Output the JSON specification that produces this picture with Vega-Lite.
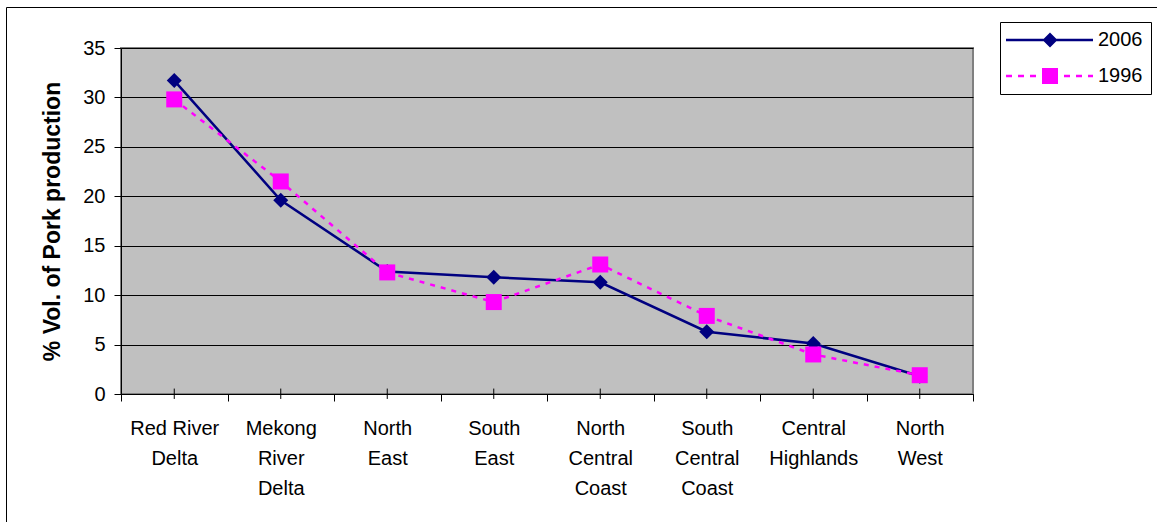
{
  "$schema": "https://vega.github.io/schema/vega-lite/v6.json",
  "width": 852,
  "height": 346,
  "autosize": {"type": "none"},
  "padding": {"left": 121, "top": 48, "right": 184, "bottom": 128},
  "background": "white",
  "config": {
    "font": "Liberation Sans",
    "view": {"fill": "#C0C0C0", "stroke": "#808080", "strokeWidth": 2},
    "axis": {
      "labelFont": "Liberation Sans",
      "labelFontSize": 20,
      "labelColor": "black",
      "tickColor": "black",
      "domainColor": "black",
      "titleFont": "Liberation Sans",
      "titleColor": "black"
    }
  },
  "data": {
    "values": [
      {"region": "Red River Delta", "year": "2006", "value": 31.7},
      {"region": "Mekong River Delta", "year": "2006", "value": 19.6},
      {"region": "North East", "year": "2006", "value": 12.4},
      {"region": "South East", "year": "2006", "value": 11.8},
      {"region": "North Central Coast", "year": "2006", "value": 11.3},
      {"region": "South Central Coast", "year": "2006", "value": 6.3},
      {"region": "Central Highlands", "year": "2006", "value": 5.1},
      {"region": "North West", "year": "2006", "value": 1.8},
      {"region": "Red River Delta", "year": "1996", "value": 29.8},
      {"region": "Mekong River Delta", "year": "1996", "value": 21.5},
      {"region": "North East", "year": "1996", "value": 12.3},
      {"region": "South East", "year": "1996", "value": 9.3},
      {"region": "North Central Coast", "year": "1996", "value": 13.1},
      {"region": "South Central Coast", "year": "1996", "value": 7.9},
      {"region": "Central Highlands", "year": "1996", "value": 4.0},
      {"region": "North West", "year": "1996", "value": 1.9}
    ]
  },
  "layer": [
    {
      "mark": {"type": "point", "opacity": 0},
      "encoding": {
        "x": {
          "datum": 0, "type": "quantitative",
          "scale": {"domain": [0, 1], "range": [-115, 1036], "nice": false, "zero": false},
          "axis": {"orient": "top", "offset": 41, "domain": true, "domainColor": "black", "domainWidth": 1, "ticks": false, "labels": false, "grid": false, "title": null}
        },
        "y": {
          "datum": 0, "type": "quantitative",
          "scale": {"domain": [0, 1], "range": [474, -41], "nice": false, "zero": false},
          "axis": {"orient": "left", "offset": 115, "domain": true, "domainColor": "black", "domainWidth": 1, "ticks": false, "labels": false, "grid": false, "title": null}
        }
      }
    },
    {
      "encoding": {
        "x": {
          "field": "region", "type": "nominal", "sort": null,
          "scale": {"type": "band", "paddingInner": 0, "paddingOuter": 0},
          "axis": {
            "orient": "bottom", "title": null, "labelAngle": 0, "tickSize": 7, "tickBand": "extent",
            "labelPadding": 17, "labelLineHeight": 30, "labelBaseline": "top",
            "grid": false, "domainWidth": 1,
            "labelExpr": "datum.label == 'Red River Delta' ? ['Red River', 'Delta'] : datum.label == 'Central Highlands' ? ['Central', 'Highlands'] : split(datum.label, ' ')"
          }
        },
        "y": {
          "field": "value", "type": "quantitative",
          "scale": {"domain": [0, 35], "nice": false},
          "axis": {
            "orient": "left",
            "title": "% Vol. of Pork production", "titleFontSize": 23, "titleFontWeight": "bold",
            "titlePadding": 18, "values": [0, 5, 10, 15, 20, 25, 30, 35],
            "grid": true, "gridColor": "black", "gridWidth": 1, "gridOpacity": 1,
            "tickSize": 7, "labelPadding": 9, "domainWidth": 1
          }
        }
      },
      "layer": [
        {
          "transform": [{"filter": "datum.year == '2006'"}],
          "mark": {"type": "rule", "color": "black", "strokeWidth": 1},
          "encoding": {
            "y": {"datum": 0.55, "type": "quantitative"},
            "y2": {"datum": -0.5}
          }
        },
        {
          "transform": [{"filter": "datum.year == '2006'"}],
          "mark": {"type": "line", "strokeWidth": 2.5, "color": "#000080"}
        },
        {
          "transform": [{"filter": "datum.year == '2006'"}],
          "mark": {"type": "point", "filled": true, "opacity": 1, "shape": "diamond", "size": 225, "color": "#000080"}
        },
        {
          "transform": [{"filter": "datum.year == '1996'"}],
          "mark": {"type": "line", "strokeWidth": 2.5, "color": "#FF00FF", "strokeDash": [5, 6]}
        },
        {
          "transform": [{"filter": "datum.year == '1996'"}],
          "mark": {"type": "point", "filled": true, "opacity": 1, "shape": "square", "size": 256, "color": "#FF00FF"}
        },
        {
          "mark": {"type": "point", "filled": true, "opacity": 0},
          "encoding": {
            "color": {
              "field": "year", "type": "nominal",
              "scale": {"domain": ["2006", "1996"], "range": ["#000080", "#FF00FF"]},
              "legend": {
                "orient": "none", "legendX": 879, "legendY": -26, "title": null,
                "strokeColor": "black", "fillColor": "white", "padding": 8,
                "labelFontSize": 20, "labelFont": "Liberation Sans", "labelColor": "black",
                "symbolSize": 400, "symbolOpacity": 1, "symbolStrokeWidth": 0, "rowPadding": 16, "labelOffset": 70
              }
            },
            "shape": {
              "field": "year", "type": "nominal",
              "scale": {"domain": ["2006", "1996"], "range": [
                "M-1.2,-0.12H7.5V0.12H-1.2ZM3.2,-0.75L3.95,0L3.2,0.75L2.45,0Z",
                "M-1.2,-0.12H-0.6V0.12H-1.2ZM0,-0.12H0.6V0.12H0ZM1.2,-0.12H1.8V0.12H1.2ZM2.4,-0.8H4V0.8H2.4ZM4.6,-0.12H5.2V0.12H4.6ZM5.8,-0.12H6.4V0.12H5.8ZM7,-0.12H7.5V0.12H7Z"
              ]},
              "legend": {
                "orient": "none", "legendX": 879, "legendY": -26, "title": null,
                "strokeColor": "black", "fillColor": "white", "padding": 8,
                "labelFontSize": 20, "labelFont": "Liberation Sans", "labelColor": "black",
                "symbolSize": 400, "symbolOpacity": 1, "symbolStrokeWidth": 0, "rowPadding": 16, "labelOffset": 70
              }
            }
          }
        }
      ]
    }
  ],
  "resolve": {"scale": {"x": "independent", "y": "independent"}}
}
